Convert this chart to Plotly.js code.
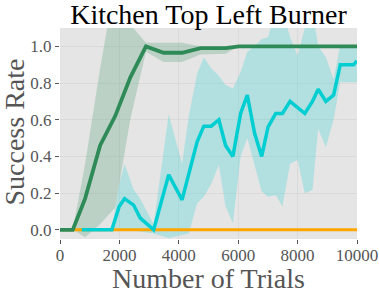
<!DOCTYPE html>
<html>
<head>
<meta charset="utf-8">
<script src="https://cdn.plot.ly/plotly-3.0.1.min.js"></script>
<style>html,body{margin:0;padding:0;background:#fff;}#chart{width:379px;height:294px;}</style>
</head>
<body>
<div id="chart"></div>
<script>
// Green series (mean with lower / upper band)
const greenX     = [0, 429, 845, 1351, 1858, 2365, 2894, 3490, 4110, 4730, 5574, 6024, 10000];
const greenMean  = [0, 0, 0.17, 0.46, 0.62, 0.83, 1.0, 0.965, 0.965, 0.99, 0.99, 1.0, 1.0];
const greenLower = [0, 0, -0.04, 0.03, 0.12, 0.6, 0.97, 0.915, 0.915, 0.955, 0.96, 1.0, 1.0];
const greenUpper = [0, 0, 0.36, 0.88, 1.35, 1.12, 1.02, 1.02, 1.02, 1.0, 1.0, 1.0, 1.0];

// Cyan series
const cyanX     = [733, 1745, 1993, 2173, 2477, 2703, 3153, 3660, 4110, 4336, 4617, 4842, 5090, 5349, 5574, 5822, 6081, 6306, 6554, 6790, 7004, 7263, 7488, 7747, 8000, 8243, 8500, 8693, 8953, 9212, 9437, 9887, 10000];
const cyanMean  = [0, 0, 0.127, 0.17, 0.135, 0.064, 0, 0.30, 0.163, 0.30, 0.48, 0.565, 0.565, 0.60, 0.46, 0.40, 0.634, 0.734, 0.525, 0.40, 0.56, 0.634, 0.634, 0.70, 0.667, 0.634, 0.70, 0.766, 0.70, 0.734, 0.90, 0.90, 0.92];
const cyanLower = [0, 0, 0, 0, 0, -0.01, -0.02, -0.045, -0.03, -0.02, 0.145, 0.18, 0.25, 0.353, 0.127, 0.036, 0.40, 0.5, 0.35, 0.21, 0.18, 0.19, 0.127, 0.36, 0.38, 0.20, 0.217, 0.55, 0.45, 0.6, 0.805, 0.805, 0.805];
const cyanUpper = [0, 0, 0.25, 0.36, 0.22, 0.17, 0.03, 0.63, 0.36, 0.62, 0.85, 0.94, 0.88, 0.84, 0.79, 0.77, 0.86, 0.97, 1.0, 1.04, 1.05, 1.2, 1.2, 1.05, 0.95, 1.1, 1.2, 1.0, 0.94, 0.82, 1.01, 1.0, 1.0];

// Orange series
const orangeX    = [0, 10000];
const orangeMean = [0, 0];

const tickVals = [0, 2000, 4000, 6000, 8000, 10000];
const tickText = ['0', '2000', '4000', '6000', '8000', '10000'];

const GREEN = '#2e8b57', CYAN = '#00ced1', ORANGE = '#ffa500';

function band(x, lo, hi, fill) {
  return [
    {x: x, y: lo, mode: 'lines', line: {width: 0, color: fill}, hoverinfo: 'skip', showlegend: false},
    {x: x, y: hi, mode: 'lines', line: {width: 0, color: fill}, fill: 'tonexty', fillcolor: fill, hoverinfo: 'skip', showlegend: false}
  ];
}

const data = [].concat(
  band(greenX, greenLower, greenUpper, 'rgba(46,139,87,0.22)'),
  band(cyanX, cyanLower, cyanUpper, 'rgba(0,206,209,0.22)'),
  [
    {x: orangeX, y: orangeMean, mode: 'lines', line: {color: ORANGE, width: 3}, showlegend: false},
    {x: cyanX, y: cyanMean, mode: 'lines', line: {color: CYAN, width: 3.5}, showlegend: false},
    {x: greenX, y: greenMean, mode: 'lines', line: {color: GREEN, width: 3.8}, showlegend: false}
  ]
);

const layout = {
  width: 379, height: 294,
  margin: {l: 60, r: 22, t: 28, b: 55, pad: 0},
  paper_bgcolor: '#ffffff',
  plot_bgcolor: '#e5e5e5',
  showlegend: false,
  title: {text: 'Kitchen Top Left Burner', font: {family: 'Liberation Serif', size: 28, color: '#000'}, x: 0.5, xref: 'paper', y: 0.985, yanchor: 'top'},
  xaxis: {
    range: [0, 10000], tickvals: tickVals, ticktext: tickText,
    ticks: 'outside', ticklen: 4, tickcolor: '#555', tickwidth: 1,
    ticklabelstandoff: -3,
    showgrid: true, gridcolor: '#dadada', gridwidth: 1, zeroline: false, showline: false,
    tickfont: {family: 'Liberation Serif', size: 17, color: '#555'},
    title: {text: 'Number of Trials', font: {family: 'Liberation Serif', size: 28, color: '#555'}, standoff: 5}
  },
  yaxis: {
    range: [-0.05, 1.1], tickvals: [0, 0.2, 0.4, 0.6, 0.8, 1.0], tickformat: '.1f',
    ticks: 'outside', ticklen: 4, tickcolor: '#555', tickwidth: 1,
    showgrid: true, gridcolor: '#dadada', gridwidth: 1, zeroline: false, showline: false,
    tickfont: {family: 'Liberation Serif', size: 17, color: '#555'}
  },
  annotations: [{
    text: 'Success Rate', textangle: -90, showarrow: false,
    xref: 'paper', yref: 'paper', x: 0, y: 0.5, xanchor: 'center', yanchor: 'middle',
    xshift: -46, yshift: 1,
    font: {family: 'Liberation Serif', size: 28, color: '#555'}
  }]
};

Plotly.newPlot('chart', data, layout, {staticPlot: true, displayModeBar: false});
</script>
</body>
</html>
